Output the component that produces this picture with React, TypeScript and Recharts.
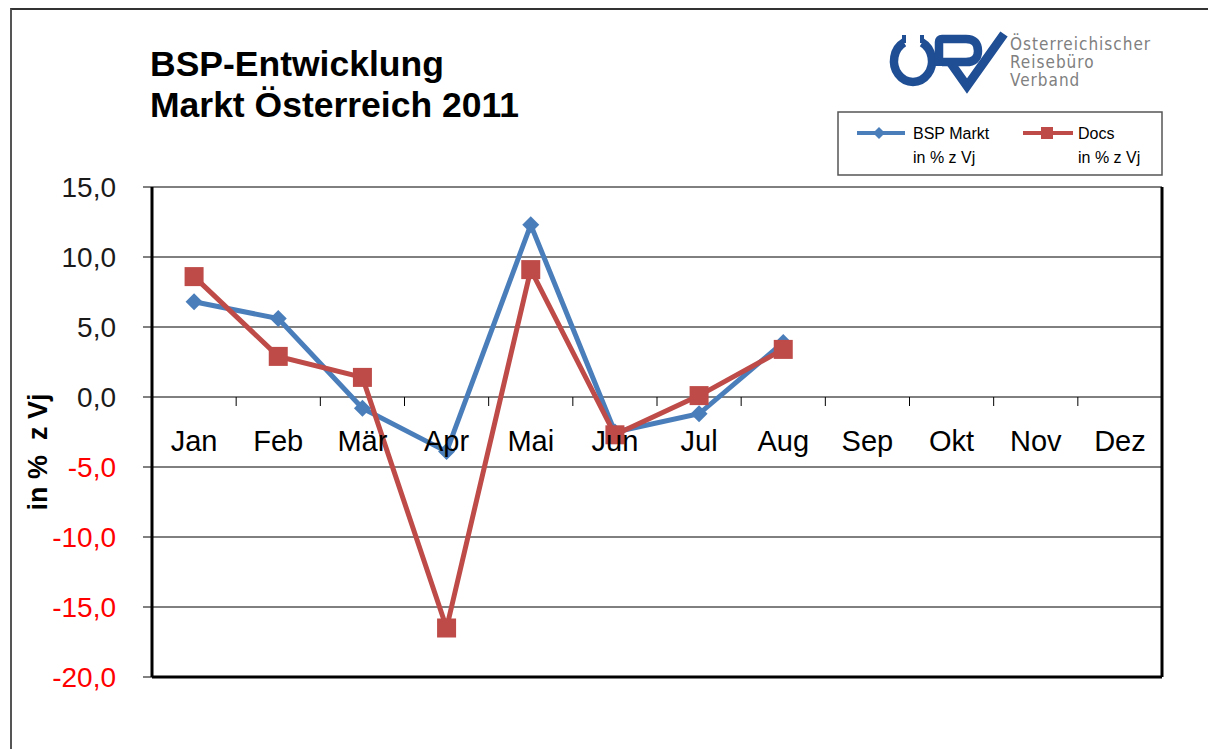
import React from "react"
import { CartesianGrid, Line, LineChart, XAxis, YAxis } from "recharts"

const months = ["Jan", "Feb", "Mär", "Apr", "Mai", "Jun", "Jul", "Aug", "Sep", "Okt", "Nov", "Dez"]
const bspMarkt = [6.8, 5.6, -0.8, -3.9, 12.3, -2.5, -1.2, 3.9, null, null, null, null]
const docs = [8.6, 2.9, 1.4, -16.5, 9.1, -2.7, 0.1, 3.4, null, null, null, null]
const yTicks = [-20, -15, -10, -5, 0, 5, 10, 15]

const data = months.map((m, i) => ({ name: m, bsp: bspMarkt[i], docs: docs[i] }))

const W = 1208
const H = 749
const TOP = 187
const BOTTOM = 71
const LEFT = 152
const RIGHT = 45
const plotW = W - LEFT - RIGHT - 1
const plotH = H - TOP - BOTTOM - 1
const yMin = -20
const yMax = 15
const zeroY = TOP + (plotH * yMax) / (yMax - yMin)
const band = plotW / months.length

const BLUE = "#4A7EBB"
const RED = "#BE4B48"
const FONT = "'Liberation Sans', Arial, sans-serif"

const fmt = (v: number) => v.toFixed(1).replace(".", ",")

const YTick = (props: any) => {
  const { x, y, payload } = props
  const v = payload.value
  return (
    <text x={x - 25} y={y} dy={10} textAnchor="end" fontSize={28} fontFamily={FONT} fill={v < 0 ? "#FF0000" : "#1a1a1a"}>
      {fmt(v)}
    </text>
  )
}

const XTick = (props: any) => {
  const { x, payload, index } = props
  return (
    <g>
      {index < months.length - 1 && (
        <line x1={x + band / 2} x2={x + band / 2} y1={zeroY} y2={zeroY + 9} stroke="#000" strokeWidth={1} />
      )}
      <text x={x} y={zeroY + 54} textAnchor="middle" fontSize={29} fontFamily={FONT} fill="#000">
        {payload.value}
      </text>
    </g>
  )
}

const YTitle = (props: any) => {
  const { viewBox } = props
  const cx = viewBox.x + 38
  const cy = viewBox.y + viewBox.height / 2 + 20
  return (
    <text
      x={cx}
      y={cy}
      transform={`rotate(-90 ${cx} ${cy})`}
      textAnchor="middle"
      dominantBaseline="central"
      fontFamily={FONT}
      fontWeight="bold"
      fontSize={27}
      fill="#000"
      style={{ whiteSpace: "pre" }}
    >
      {"in %  z Vj"}
    </text>
  )
}

const Diamond = (props: any) => {
  const { cx, cy, index } = props
  if (cx == null || cy == null) return <g key={index} />
  const s = 8.5
  return (
    <path key={index} d={`M${cx},${cy - s} L${cx + s},${cy} L${cx},${cy + s} L${cx - s},${cy} Z`} fill={BLUE} />
  )
}

const Square = (props: any) => {
  const { cx, cy, index } = props
  if (cx == null || cy == null) return <g key={index} />
  const s = 9.5
  return <rect key={index} x={cx - s} y={cy - s} width={s * 2} height={s * 2} fill={RED} />
}

const Logo = () => (
  <svg width={300} height={80} style={{ position: "absolute", left: 880, top: 22 }}>
    <g fill="none" stroke="#1F4E94" strokeWidth={8.5}>
      <path d="M 24 20.5 A 19 21 0 1 0 42 20.5" />
      <line x1={24} y1={13} x2={24} y2={21} strokeWidth={4} />
      <line x1={42} y1={13} x2={42} y2={21} strokeWidth={4} />
      <path d="M 59 44 L 59 20 Q 59 17 62 17 L 86 17 Q 98 17 98 29 Q 98 40 86 40 L 62 40" />
      <path d="M 70 40 L 87 64 L 124 12" strokeWidth={9} />
    </g>
    <g fill="#808080" fontFamily="'DejaVu Sans Condensed', 'DejaVu Sans', sans-serif" fontSize={17} letterSpacing={1} style={{ fontStretch: "condensed" }}>
      <text x={130} y={28}>Österreichischer</text>
      <text x={130} y={46}>Reisebüro</text>
      <text x={130} y={64}>Verband</text>
    </g>
  </svg>
)

const LegendBox = () => (
  <svg width={326} height={65} style={{ position: "absolute", left: 837, top: 111 }}>
    <rect x={1} y={1} width={324} height={63} fill="#fff" stroke="#555" strokeWidth={1.5} />
    <line x1={20} x2={68} y1={22} y2={22} stroke={BLUE} strokeWidth={4} />
    <path d="M42,16 L48,22 L42,28 L36,22 Z" fill={BLUE} />
    <line x1={186} x2={236} y1={22} y2={22} stroke={RED} strokeWidth={4} />
    <rect x={204} y={16} width={12} height={12} fill={RED} />
    <g fontFamily={FONT} fontSize={16} fill="#000">
      <text x={76} y={28}>BSP Markt</text>
      <text x={76} y={52}>in % z Vj</text>
      <text x={241} y={28}>Docs</text>
      <text x={241} y={52}>in % z Vj</text>
    </g>
  </svg>
)

export default function App() {
  return (
    <div style={{ position: "absolute", left: 0, top: 0, width: W, height: H, background: "#fff", overflow: "hidden" }}>
      <div
        style={{
          position: "absolute",
          left: 10,
          top: 8,
          width: W,
          height: H,
          borderTop: "2px solid #333",
          borderLeft: "2px solid #555",
        }}
      />
      <div style={{ position: "absolute", left: 150, top: 44, fontFamily: FONT, fontWeight: "bold", fontSize: 35.5, lineHeight: "41px", color: "#000" }}>
        <div>BSP-Entwicklung</div>
        <div>Markt Österreich 2011</div>
      </div>
      <Logo />
      <LineChart
        width={W}
        height={H}
        data={data}
        margin={{ top: TOP, right: RIGHT, bottom: BOTTOM, left: 0 }}
        style={{ position: "absolute", left: 0, top: 0 }}
      >
        <CartesianGrid vertical={false} stroke="#000" strokeWidth={1} />
        <XAxis
          dataKey="name"
          height={1}
          padding={{ left: band / 2, right: band / 2 }}
          axisLine={{ stroke: "#000", strokeWidth: 3 }}
          tickLine={false}
          tick={<XTick />}
          interval={0}
        />
        <YAxis
          width={LEFT}
          domain={[yMin, yMax]}
          ticks={yTicks}
          interval={0}
          allowDataOverflow
          tickSize={9}
          tickLine={{ stroke: "#000" }}
          axisLine={{ stroke: "#000", strokeWidth: 3 }}
          tick={<YTick />}
          label={{ content: <YTitle /> }}
        />
        <YAxis
          yAxisId="r"
          orientation="right"
          width={1}
          domain={[yMin, yMax]}
          tick={false}
          tickLine={false}
          axisLine={{ stroke: "#000", strokeWidth: 3 }}
        />
        <Line
          type="linear"
          dataKey="bsp"
          stroke={BLUE}
          strokeWidth={5}
          dot={<Diamond />}
          activeDot={false}
          isAnimationActive={false}
        />
        <Line
          type="linear"
          dataKey="docs"
          stroke={RED}
          strokeWidth={5}
          dot={<Square />}
          activeDot={false}
          isAnimationActive={false}
        />
      </LineChart>
      <LegendBox />
    </div>
  )
}
